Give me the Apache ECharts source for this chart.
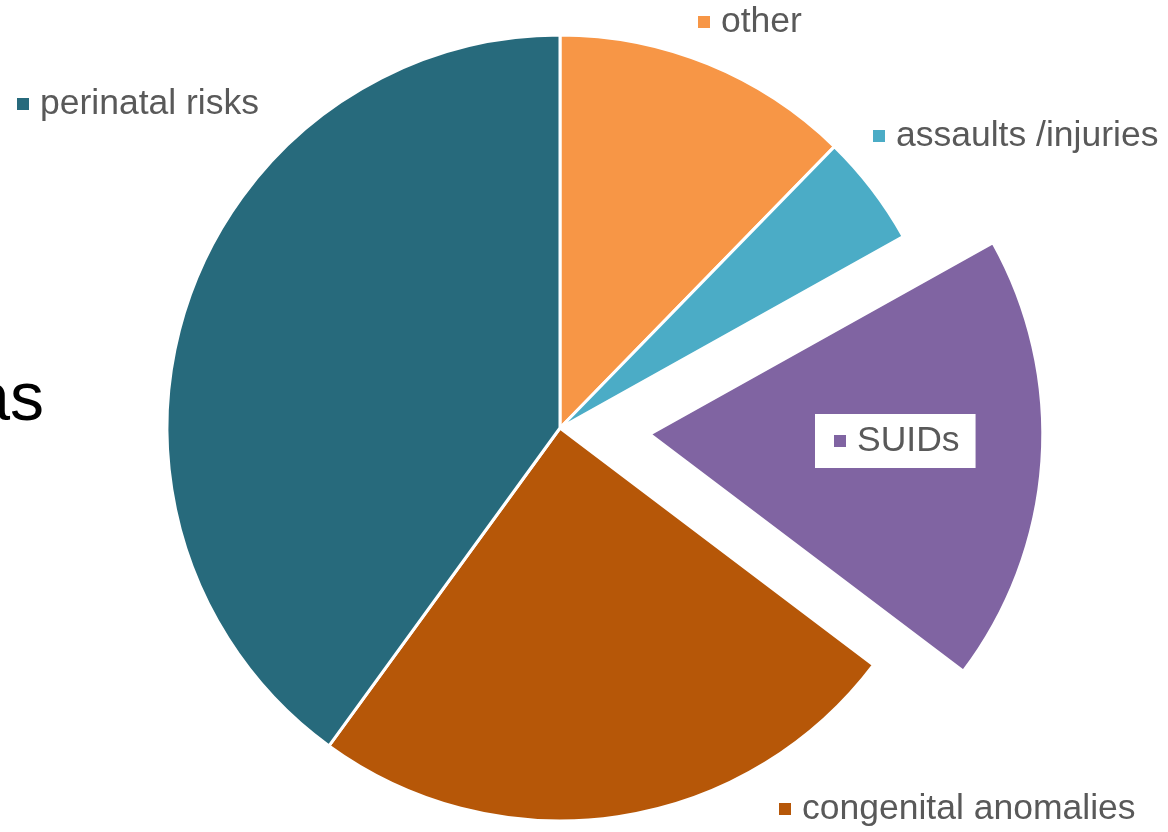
<!DOCTYPE html>
<html>
<head>
<meta charset="utf-8">
<script src="https://cdn.jsdelivr.net/npm/echarts@6/dist/echarts.min.js"></script>
<style>
  html, body { margin: 0; padding: 0; background: #fff; }
  #chart { width: 1168px; height: 832px; }
</style>
</head>
<body>
<div id="chart"></div>
<script>
  // slices, clockwise from 12 o'clock
  var categories = ['other', 'assaults /injuries', 'SUIDs', 'congenital anomalies', 'perinatal risks'];
  var values = [12.3, 4.6, 18.4, 24.7, 40.0];
  var colors = ['#F79646', '#4BACC6', '#8064A2', '#B65708', '#276A7C'];
  var explodedIndex = 2;

  // where each data label sits (left edge, vertical middle)
  var labelPos = [[698, 22], [873, 136], [815, 441], [779, 809], [17, 104]];

  var FONT = 'Liberation Sans, Arial, sans-serif';
  var chart = echarts.init(document.getElementById('chart'));

  function richFor(i) {
    return {
      m: { width: 12, height: 12, backgroundColor: colors[i] },
      t: { fontSize: 35.5, color: '#595959', fill: '#595959', fontFamily: FONT, padding: [0, 0, 0, 11] }
    };
  }

  var data = categories.map(function (name, i) {
    return {
      name: name,
      value: values[i],
      selected: i === explodedIndex,
      itemStyle: { color: colors[i] },
      label: {
        show: i !== explodedIndex,
        formatter: '{m|}{t|' + name + '}',
        rich: richFor(i)
      }
    };
  });

  // label of the pulled-out slice: white box over the slice
  var sp = labelPos[explodedIndex];
  chart.setOption({
    animation: false,
    graphic: [{
      type: 'text',
      x: 44,
      y: 435,
      style: {
        text: 'as', fontSize: 68, fill: '#000', fontFamily: FONT,
        align: 'right', verticalAlign: 'bottom'
      }
    }, {
      type: 'text',
      x: sp[0],
      y: sp[1],
      z: 100,
      style: {
        text: '{m|}{t|' + categories[explodedIndex] + '}',
        rich: richFor(explodedIndex),
        backgroundColor: '#ffffff',
        padding: [9, 16, 9, 19],
        align: 'left',
        verticalAlign: 'middle'
      }
    }],
    series: [{
      type: 'pie',
      center: [560, 428],
      radius: [0, 393],
      startAngle: 90,
      clockwise: true,
      selectedMode: 'single',
      selectedOffset: 90,
      silent: true,
      emphasis: { disabled: true },
      itemStyle: { borderColor: '#ffffff', borderWidth: 3 },
      label: { show: true, position: 'outside', overflow: 'none', alignTo: 'none' },
      labelLine: { show: false },
      labelLayout: function (params) {
        var p = labelPos[params.dataIndex];
        return { x: p[0], y: p[1], align: 'left', verticalAlign: 'middle' };
      },
      data: data
    }]
  });
</script>
</body>
</html>
